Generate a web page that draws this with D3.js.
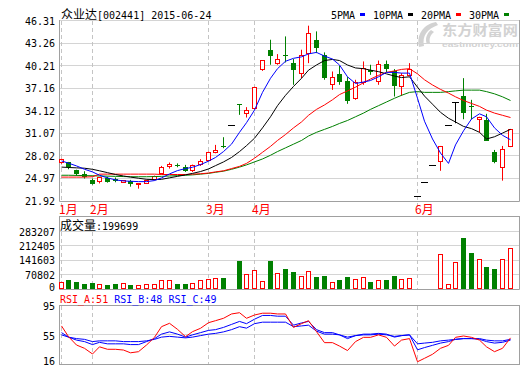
<!DOCTYPE html>
<html>
<head>
<meta charset="utf-8">
<script src="https://cdn.jsdelivr.net/npm/d3@7/dist/d3.min.js"></script>
<style>
body { margin: 0; background: #fff; }
svg { display: block; }
text { font-family: "DejaVu Sans Mono", monospace; font-size: 10px; }
</style>
</head>
<body>
<script>
// daily candles
var opens  = [27.03,27.16,26.12,25.62,24.77,24.50,25.04,24.90,24.40,24.59,24.13,24.32,24.77,25.58,26.57,26.84,26.57,25.94,26.84,27.34,28.46,29.36,32.07,35.00,33.80,34.46,
              39.65,42.36,40.55,41.64,40.55,39.11,41.82,43.62,41.68,37.76,39.11,38.07,35.82,37.98,39.65,38.07,40.42,39.42,37.30,38.97,22.50,24.45,26.74,27.24,32.07,35.23,36.13,34.69,32.97,32.88,28.55,26.34,29.27];
var highs  = [27.65,27.20,26.15,25.94,24.95,25.10,25.20,25.10,24.75,24.77,24.35,24.80,25.35,26.66,27.12,27.00,26.80,26.84,27.57,28.60,29.50,30.54,32.07,35.00,34.60,37.35,
              40.91,43.71,41.77,44.16,41.10,42.36,45.61,44.84,42.00,39.42,40.19,38.66,38.30,40.78,40.33,40.90,40.90,39.74,39.20,40.55,22.50,24.45,26.74,29.36,32.07,35.23,38.52,35.59,33.30,33.70,28.82,29.36,31.60];
var lows   = [26.95,26.21,25.31,24.95,24.13,24.30,24.40,24.45,24.35,23.86,23.59,24.22,24.70,25.50,26.30,26.48,25.85,25.85,26.66,27.30,28.37,29.05,32.07,33.56,33.20,34.30,
              39.50,40.33,40.33,40.64,37.62,38.52,40.55,41.90,38.30,36.94,37.62,35.05,35.60,37.62,38.97,37.62,39.33,36.04,36.13,38.75,22.50,24.45,26.74,26.00,32.07,32.43,32.97,32.97,31.17,30.09,27.02,24.67,29.20];
var closes = [27.48,26.48,25.58,25.26,24.22,25.04,24.49,24.63,24.68,24.13,24.30,24.68,25.22,26.44,26.89,26.66,26.03,26.66,27.21,28.47,28.73,29.18,32.07,34.90,34.15,37.30,
              40.91,41.55,41.10,41.55,39.56,41.55,44.52,42.58,38.52,38.66,38.07,35.36,37.94,39.88,39.42,40.42,39.79,37.39,38.84,39.74,22.50,24.45,26.74,29.27,32.07,35.23,33.88,34.55,33.20,30.09,27.24,28.82,31.53];

var ma5  = [27.34,27.03,26.66,26.21,25.85,25.40,25.04,24.77,24.63,24.59,24.54,24.54,24.68,25.04,25.58,26.03,26.30,26.48,26.84,27.30,27.80,28.60,29.60,31.20,32.50,34.20,
            36.60,38.50,39.80,40.80,41.20,41.40,41.80,42.00,41.50,41.10,40.30,38.70,37.80,38.00,38.20,38.70,39.30,39.30,39.20,39.20,35.80,32.70,30.30,28.40,27.00,29.50,31.40,33.00,33.70,33.30,31.80,30.80,30.20];
var ma10 = [26.50,26.45,26.40,26.35,26.20,26.00,25.75,25.50,25.30,25.15,25.00,24.85,24.80,24.85,25.05,25.25,25.45,25.65,25.90,26.25,26.70,27.20,27.80,28.60,29.40,30.40,
            31.80,33.30,34.80,36.20,37.40,38.50,39.60,40.30,40.90,41.05,40.90,40.30,39.90,39.80,39.60,39.40,39.10,38.80,38.60,38.70,37.30,36.10,35.00,33.90,33.10,32.60,32.00,31.70,31.20,30.30,30.60,31.10,31.60];
var ma20 = [25.15,25.15,25.15,25.15,25.20,25.55,25.55,25.55,25.55,25.55,25.55,25.55,25.55,25.50,25.50,25.50,25.50,25.55,25.60,25.70,25.85,26.00,26.30,26.60,27.00,27.70,
            28.50,29.30,30.10,30.90,31.80,32.60,33.50,34.30,34.90,35.60,36.30,36.80,37.30,37.90,38.40,38.90,39.30,39.50,39.70,39.80,39.10,38.30,37.60,37.00,36.50,36.00,35.50,35.10,34.70,34.20,33.80,33.50,33.20];
var ma30 = [25.40,25.40,25.38,25.35,25.33,25.30,25.28,25.25,25.22,25.20,25.20,25.20,25.22,25.25,25.30,25.35,25.40,25.45,25.55,25.65,25.80,25.95,26.20,26.50,26.80,27.20,
            27.60,28.10,28.60,29.10,29.60,30.10,30.70,31.20,31.60,32.00,32.40,32.80,33.30,33.80,34.30,34.80,35.30,35.80,36.20,36.60,36.70,36.60,36.60,36.60,36.70,36.80,36.90,36.90,36.90,36.70,36.40,36.00,35.50];

var volumes = [36000,46000,36000,26000,29000,25000,21000,26000,29000,21000,20000,25000,25000,46000,42000,26000,26000,29000,44000,51000,56000,54000,2000,139000,74000,95000,
               39000,138000,78000,98000,85000,64000,88000,59000,64000,34000,46000,59000,49000,57000,36000,44000,46000,64000,49000,52000,3000,3000,3000,170000,23000,132000,250000,178000,146000,108000,98000,146000,199699];

var rsiA = [67,52.6,41.4,37,29.4,39,35.7,35.7,34.7,31,32.5,41.4,51.7,66,70.5,62.4,52.6,59.3,63.8,71.3,74,77.2,83,84.7,77.2,81.6,
            84,84,83,83,65,70,74,59.3,44.6,44.6,40,34,46,51.7,51.7,55,51.7,40,48,50,19,23.6,29,37,41,51.7,53.5,51.7,48,39,32.5,37,51];
var rsiB = [58,52,48,46,42,45,43,43,43,42,42,46,50,56,59,56,52,55,58,61,62,65,69,73,70,76,
            81,81,80,80,68,71,73,62,58,58,55,50,54,56,56,57,56,52,54,55,35,38,41,44,46,49,50,50,49,46,44,45,48];
var rsiC = [55,52,50,49,46,47,47,47,46,46,46,47,49,52,53,52,51,52,54,56,57,59,62,66,64,70,
            72,72,72,72,66,67,68,60,56,56,55,52,54,55,55,56,55,53,54,55,43,44,45,47,48,49,50,50,50,48,47,47,49];

var monthLabels = ["1月", "2月", "3月", "4月", "6月"];
var monthStarts = [0, 4, 19, 25, 46];
var priceTicks = [21.92, 24.97, 28.02, 31.07, 34.12, 37.16, 40.21, 43.26, 46.31];
var volumeTicks = [0, 70802, 141603, 212405, 283207];
var rsiTicks = [16, 55, 95];

var RED = "#ff0000", GREEN = "#008000", BLUE = "#0000ff";
var GRID = "#d4d4d4", FRAME = "#a0a0a0";
var left = 59.5, right = 519.5;

var svg = d3.select("body")
    .append("svg")
    .attr("width", 520)
    .attr("height", 365);

var n = closes.length;
var x = d3.scaleBand().domain(d3.range(n)).range([56.8, 513.5]);
function cx(i) { return Math.round(x(i) + x.bandwidth() / 2); }

var y = d3.scaleLinear().domain([21.92, 46.31]).range([201, 20.5]);
var vy = d3.scaleLinear().domain([0, 283207]).range([289, 231.5]);
var ry = d3.scaleLinear().domain([16, 95]).range([364, 305]);

function crisp(v) { return Math.round(v - 0.5) + 0.5; }

// watermark
var wm = svg.append("g").attr("fill", "#d2d2d2");
wm.append("path").attr("d", "M436,22 C425,24 416,33 419,47 L424,46 C422,36 427,29 438,25 Z");
wm.append("path").attr("d", "M431,30 C426,34 425,40 427,44 L430,43 C429,39 430,35 434,32 Z");
wm.append("text").attr("x", 442).attr("y", 35)
    .style("font-family", "Noto Sans CJK SC").style("font-size", "14px").style("font-weight", "bold")
    .attr("textLength", 76).attr("lengthAdjust", "spacingAndGlyphs")
    .text("东方财富网");
wm.append("text").attr("x", 442).attr("y", 47)
    .attr("textLength", 76).attr("lengthAdjust", "spacingAndGlyphs")
    .style("font-family", "Liberation Sans").style("font-size", "8px").style("font-weight", "bold")
    .text("eastmoney.com");

// panel frames and grids
function hline(yy, color, x0, x1) {
    svg.append("line").attr("x1", x0 || left).attr("x2", x1 || right)
        .attr("y1", crisp(yy)).attr("y2", crisp(yy)).attr("stroke", color);
}
function vline(xx, y0, y1, color, dash) {
    svg.append("line").attr("x1", xx).attr("x2", xx).attr("y1", y0).attr("y2", y1)
        .attr("stroke", color).attr("stroke-dasharray", dash || null);
}

priceTicks.forEach(function(t, k) {
    hline(y(t), k == 0 ? FRAME : GRID);
    svg.append("text").attr("x", 55).attr("y", y(t) + 4).attr("text-anchor", "end").text(t.toFixed(2));
});
volumeTicks.forEach(function(t, k) {
    hline(vy(t), k == 0 ? FRAME : GRID);
    svg.append("text").attr("x", 55).attr("y", Math.min(vy(t) + 4, 291)).attr("text-anchor", "end").text(t);
});
hline(216.5, FRAME);
rsiTicks.forEach(function(t, k) {
    hline(ry(t), k == 1 ? GRID : FRAME);
    svg.append("text").attr("x", 55).attr("y", Math.min(ry(t) + 5, 364.5)).attr("text-anchor", "end").text(t);
});

monthStarts.forEach(function(m, k) {
    var xx = cx(m) + 0.5;
    vline(xx, 21, 210, "#c4c4c4", "4,3");
    vline(xx, 232, 289, "#c4c4c4", "4,3");
    vline(xx, 306, 364, "#c4c4c4", "4,3");
    svg.append("text").attr("x", cx(m) - 2).attr("y", 213.5).attr("fill", RED)
        .style("font-family", "Noto Sans CJK SC").style("font-size", "12px")
        .text(monthLabels[k]);
});

vline(left, 20, 201.5, FRAME);
vline(left, 216, 289.5, FRAME);
vline(left, 305, 365, FRAME);
vline(right, 20, 201.5, FRAME);
vline(right, 216, 289.5, FRAME);
vline(right, 305, 365, FRAME);

// titles
var title = svg.append("text").attr("x", 61).attr("y", 18.5);
title.append("tspan").style("font-family", "Noto Sans CJK SC").style("font-size", "12px").text("众业达");
title.append("tspan").text("[002441] 2015-06-24");

var legend = [["5PMA", BLUE], ["10PMA", "#000"], ["20PMA", RED], ["30PMA", GREEN]];
var cell = 0;
legend.forEach(function(d) {
    svg.append("text").attr("x", 331 + cell * 6).attr("y", 18.5).text(d[0]);
    svg.append("rect").attr("x", 331 + (cell + d[0].length + 1) * 6 - 1).attr("y", 13)
        .attr("width", 5).attr("height", 3).attr("fill", d[1]);
    cell += d[0].length + 3;
});

var vt = svg.append("text").attr("x", 60).attr("y", 230);
vt.append("tspan").style("font-family", "Noto Sans CJK SC").style("font-size", "12px").text("成交量");
vt.append("tspan").text(":" + volumes[n - 1]);

var rt = svg.append("text").attr("x", 60).attr("y", 303);
rt.append("tspan").attr("fill", RED).text("RSI_A:" + rsiA[n - 1]);
rt.append("tspan").attr("fill", BLUE).text(" RSI_B:" + rsiB[n - 1]);
rt.append("tspan").attr("fill", BLUE).text(" RSI_C:" + rsiC[n - 1]);

// candles
function candleColor(i) {
    if (closes[i] > opens[i]) return RED;
    if (closes[i] < opens[i]) return GREEN;
    return "#000";
}

var candles = svg.append("g");
d3.range(n).forEach(function(i) {
    var px = cx(i), c = candleColor(i);
    var top = y(Math.max(opens[i], closes[i])), bot = y(Math.min(opens[i], closes[i]));
    if (c == "#000") {
        candles.append("line").attr("x1", px - 3).attr("x2", px + 4)
            .attr("y1", crisp(top)).attr("y2", crisp(top)).attr("stroke", c);
        if (highs[i] > lows[i])
            candles.append("line").attr("x1", px + 0.5).attr("x2", px + 0.5)
                .attr("y1", y(highs[i])).attr("y2", y(lows[i])).attr("stroke", c);
        return;
    }
    candles.append("line").attr("x1", px + 0.5).attr("x2", px + 0.5)
        .attr("y1", y(highs[i])).attr("y2", y(lows[i])).attr("stroke", c);
    if (c == RED) {
        candles.append("rect").attr("x", px - 1.5).attr("y", crisp(top))
            .attr("width", 4).attr("height", Math.max(1, Math.round(bot - top)))
            .attr("fill", "#fff").attr("stroke", RED);
    } else {
        candles.append("rect").attr("x", px - 2).attr("y", Math.round(top))
            .attr("width", 5).attr("height", Math.max(1, Math.round(bot - top)))
            .attr("fill", GREEN);
    }
});

// moving averages
function drawLine(g, values, scale, color) {
    g.append("path")
        .datum(values)
        .attr("fill", "none")
        .attr("stroke", color)
        .attr("stroke-width", 1)
        .attr("d", d3.line().x(function(d, i) { return cx(i) + 0.5; }).y(function(d) { return scale(d); }));
}
var maG = svg.append("g");
drawLine(maG, ma30, y, GREEN);
drawLine(maG, ma20, y, RED);
drawLine(maG, ma10, y, "#000");
drawLine(maG, ma5, y, BLUE);

// volume bars
var volG = svg.append("g");
d3.range(n).forEach(function(i) {
    var px = cx(i);
    var up = closes[i] >= opens[i];
    var h = Math.max(1, Math.round(vy(0) - vy(volumes[i])));
    if (up) {
        volG.append("rect").attr("x", px - 1.5).attr("y", 288.5 - h + 1)
            .attr("width", 4).attr("height", Math.max(0, h - 1))
            .attr("fill", "#fff").attr("stroke", RED);
    } else {
        volG.append("rect").attr("x", px - 2).attr("y", 289 - h)
            .attr("width", 5).attr("height", h).attr("fill", GREEN);
    }
});

// RSI
var rsiG = svg.append("g");
drawLine(rsiG, rsiC, ry, BLUE);
drawLine(rsiG, rsiB, ry, BLUE);
drawLine(rsiG, rsiA, ry, RED);
</script>
</body>
</html>
